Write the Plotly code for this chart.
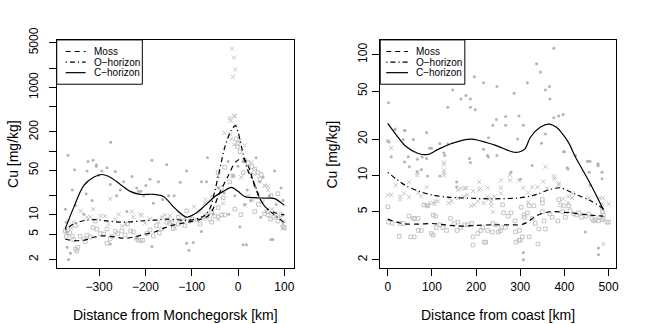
import plotly.graph_objects as go

# ---------------- data ----------------
# Transect towards Monchegorsk: (distance km, Cu mg/kg)
moss_mon = [(-373,5.6),(-371,4.6),(-368,5.9),(-363,5.2),(-358,4.6),(-355,4.1),(-351,6.8),(-351,2.9),(-348,2.7),
            (-346,3.1),(-341,4.6),(-333,4.2),(-330,3.8),(-326,4.8),(-319,4.5),(-313,6.3),(-308,8.0),(-305,6.0),
            (-297,5.1),(-290,5.0),(-283,6.0),(-283,3.6),(-276,4.2),(-272,4.6),(-265,5.5),(-260,5.1),(-251,5.6),
            (-244,4.8),(-239,7.2),(-232,5.6),(-226,5.4),(-219,4.3),(-215,4.0),(-210,4.0),(-206,4.0),(-197,5.1),
            (-190,5.8),(-183,4.7),(-176,6.8),(-170,5.2),(-165,6.0),(-154,7.7),(-148,7.4),(-143,7.7),(-140,6.1),
            (-129,9.2),(-129,7.2),(-118,8.0),(-115,6.8),(-111,11.6),(-104,8.0),(-99,8.6),(-88,8.3),(-82,7.2),
            (-70,9.5),(-61,8.6),(-57,7.7),(-50,9.6),(-43,9.3),(-43,13),(-36,26.5),(-32,18.5),(-29,56),(-43,46),
            (-18,33),(-11,41),(-4,155),(0,131),(-1.5,117),(4,98),(11,46),(14,72),(22,66),(30,57),(36,52),(43,46),
            (47,36),(50,43),(6,10.1),(-7,12.3),(-57,11.3),(-68,10),(-36,10),(-29,10),(36,11.3),(44,14.6),(52,16.9),
            (57,10.4),(63,11.3),(65,10),(70,8.6),(71,20),(77,9.2),(86,8),(86,21.5),(93,10.1),(97,6.5),(100,6.3)]
ohor_mon = [(-369,5.1),(-366,8.0),(-360,6.2),(-355,7.7),(-340,11.5),(-326,9.2),(-319,9.3),(-313,12.3),(-297,9.6),
            (-287,9.6),(-280,7.2),(-276,17.9),(-265,8.5),(-258,10.2),(-250,6.7),(-242,7.2),(-229,11.3),(-226,9.3),
            (-211,10.2),(-208,9.8),(-201,7.4),(-190,8.8),(-172,7.7),(-165,9.3),(-158,9.9),(-147,9.6),(-136,6.3),
            (-123,7.7),(-115,9.0),(-95,13.4),(-82,11.3),(-75,8.6),(-72,15.2),(-70,17.3),(-57,19.5),(-43,8.5),
            (-43,41),(-32,15.1),(-29,194),(-18,330),(-16,298),(-17,184),(-14,155),(-13,4060),(-11,1470),(-9,2940),
            (-9,356),(-9,126),(-7,350),(-6,1910),(-4,250),(4,148),(7,39),(14,123),(16,14.1),(22,20),(22,49),(29,66),
            (32,16.9),(36,43),(43,21.5),(57,29),(59,28.3),(61,11.3),(65,24.4),(65,28),(73,12.3),(82,9.6),(90,9.2),
            (97,7.2),(97,6.1),(100,8)]
chor_mon = [(-373,12.3),(-371,7.7),(-371,5.4),(-369,3.1),(-366,2.0),(-367,86),(-362,2.5),(-358,24.5),(-353,51),
            (-351,14.1),(-333,10.2),(-328,21.5),(-326,49),(-324,69),(-315,16.9),(-313,72),(-306,61),(-306,58),
            (-301,42),(-294,49),(-283,55),(-276,30),(-276,3.5),(-275,138),(-265,48),(-262,19.9),(-254,24.5),
            (-247,33),(-240,11.3),(-229,40),(-219,26.5),(-219,4.3),(-215,23.4),(-210,23.4),(-204,19.9),(-199,29),
            (-190,36.3),(-186,72),(-186,3.2),(-183,15.3),(-172,33),(-163,17.4),(-154,62),(-150,20),(-138,19.9),
            (-125,32.6),(-111,49),(-111,3.6),(-106,2.8),(-97,3.7),(-79,33),(-79,5.5),(-68,33),(-66,79),(-54,10.2),
            (-43,26.5),(-30,22),(-21.5,69),(-20,10.2),(-11,41),(-7,19.9),(0,58),(4,6.5),(11,69),(11,3.4),(14,14.6),
            (18,3.4),(20,24.5),(27,16.9),(29,44),(36,29),(39,79),(47,33),(49,9.2),(54,39),(68,19.9),(71,4.1),
            (75,4.1),(79,49),(82,14.6),(93,26.5),(97,17)]

# Smoothed trends along the Monchegorsk transect
moss_mon_fit = [(-373,4.15),(-355,3.95),(-333,4.0),(-310,4.5),(-290,4.7),(-265,4.5),(-245,4.3),(-225,4.5),
                (-205,4.9),(-180,5.4),(-160,6.2),(-140,6.9),(-120,7.4),(-100,7.9),(-80,8.6),(-65,9.6),(-55,12),
                (-40,22),(-22,40),(-5,68),(11,77),(22,58),(38,26),(58,13.5),(80,10.8),(100,10)]
ohor_mon_fit = [(-373,5.9),(-355,7.2),(-330,8.2),(-305,8.4),(-280,8.0),(-255,7.7),(-230,7.8),(-205,8.1),
                (-180,8.3),(-155,8.6),(-130,8.4),(-107,8.2),(-85,8.9),(-72,9.8),(-60,13),(-50,24),(-40,50),
                (-28,120),(-15,210),(-6,252),(0,200),(7,120),(21,50),(36,30),(47,18),(60,13),(75,10.5),(100,7.5)]
chor_mon_fit = [(-373,6.1),(-355,13),(-333,29),(-312,39),(-294,43),(-276,39),(-254,30),(-233,23.4),(-211,21),
                (-183,21),(-161,19.4),(-140,13.5),(-129,11.3),(-111,9.2),(-93,10.4),(-71,14.1),(-50,19.4),
                (-32,23.4),(-14,27),(0,23.4),(14,19.4),(36,18.6),(64,18.3),(79,18),(100,14.1)]

# Transect inland from the coast: (distance km, Cu mg/kg)
moss_coast = [(0,5.5),(1.6,4.1),(10,4.0),(26,3.13),(28,4.0),(35,4.0),(48,4.6),(52,3.1),(58,4.4),(60,3.1),(61,4.4),
              (69,3.5),(69,4.4),(76,3.5),(82,5.7),(90,5.6),(99,3.3),(103,4.7),(103,3.2),(108,4.6),(110,3.7),
              (118,3.9),(125,3.7),(133,3.5),(142,4.4),(151,4.0),(157,3.5),(159,4.1),(165,3.7),(174,3.9),(181,3.9),
              (190,4.0),(193,3.1),(193,2.65),(204,3.3),(211,3.5),(215,3.7),(219,2.8),(222,2.8),(226,3.5),(237,3.4),
              (238,4.0),(245,3.9),(250,3.4),(255,3.5),(258,3.7),(260,5.7),(262,4.9),(266,3.7),(273,4.6),(279,4.9),
              (288,4.2),(289,3.4),(290,2.8),(297,2.9),(298,3.5),(300,2.9),(302,5.46),(305,3.1),(309,4.7),(309,4.5),
              (316,4.9),(320,5.6),(320,3.1),(327,4.4),(331,5.6),(334,4.0),(340,2.7),(342,3.6),(350,5.9),(350,6.3),
              (350,5.0),(354,4.2),(357,3.6),(367,4.8),(372,4.5),(385,4.2),(387,6.3),(391,5.7),(396,5.0),(398,5.6),
              (402,4.5),(410,5.6),(413,5.1),(421,4.8),(428,4.7),(432,4.9),(439,4.5),(449,4.6),(455,4.8),(462,4.4),
              (466,4.2),(470,4.3),(477,4.2),(480,4.5),(485,4.3),(486,5.0),(488,4.4),(488,4.7),(496,4.1),(500,4.1)]
ohor_coast = [(1.6,19.3),(8,16.8),(8,6.9),(0,6.9),(18,8.3),(28,6.7),(28,6.3),(37,7.1),(48,8.8),(48,6.6),(67,10.5),
              (67,10),(69,7.2),(76,6.7),(85,5.7),(88,8),(91,5.6),(95,5.9),(103,5.9),(106,5.8),(108,6.1),(114,6.1),
              (127,12.8),(127,12.3),(127,10.5),(127,11),(127,10),(138,5.9),(140,6.5),(145,6.1),(159,6.5),(159,7.6),
              (166,7.8),(172,6.7),(174,7.8),(178,7.9),(180,6.9),(189,5.6),(193,7.4),(196,5.7),(204,6.1),(207,8.8),
              (207,7.6),(210,7.8),(217,5.9),(226,7.9),(226,6.7),(230,6.4),(234,5.6),(234,6.0),(238,5.0),(241,6.7),
              (256,9.1),(256,7.9),(256,7.1),(277,10.1),(277,9.1),(297,9.1),(307,7.9),(318,7.2),(318,6.0),(327,8),
              (339,8),(352,8.9),(357,11.8),(361,7.8),(377,9.8),(377,9.4),(387,8.6),(387,8.3),(397,6.4),(408,6.7),
              (408,5.9),(417,7.1),(417,6.5),(455,6.5),(480,6.5),(487,6.5),(485,5.8),(485,5.5),(485,5.2),(500,5.8),
              (488,2.7)]
chor_coast = [(0,19.3),(1.6,62),(1.6,40),(3,18.9),(8,14.3),(16.6,24.2),(16.6,24),(35,19.8),(38,12.9),(37.5,23.5),
              (39,23.5),(46.5,14.3),(48.8,11.8),(58,19.8),(67,13.6),(67,10.8),(76,11.2),(78,14.2),(88,22.7),
              (88,13.8),(90,9.9),(95,16.8),(99,16.8),(118,18.4),(118,9.9),(127,15.3),(129,14.6),(136,36.6),
              (136,18.2),(147,51),(156,8.8),(156,8.0),(166,43),(177,46),(185,13.8),(187,43),(187,36.6),(187,12.8),
              (196,65.5),(198,35),(217,58.5),(217,16.5),(226,14.6),(228,20.5),(228,14.2),(238,26),(246,29),
              (247,54.6),(247,14.6),(267,30.8),(267,26),(279,10.6),(286,48),(294,20),(297,31),(300,9.3),(307,2.0),
              (307,2.3),(307,26),(316,58.5),(327,12.1),(337,84),(346,72),(348,18.5),(357,51),(357,22),(366,54.6),
              (367,43),(376,113),(376,30),(387,31),(397,32),(398,15.7),(400,15.7),(406,11.6),(408,11.3),(425,14.6),
              (447,3.4),(452,13.1),(455,13.1),(456,10.6),(458,13.1),(458,8.3),(476,12.5),(476,12),(476,12.3),
              (477,2.5),(477,2.2),(485,9.4),(485,10.6)]

# Smoothed trends along the coast transect
moss_coast_fit = [(0,4.35),(20,4.1),(39,3.97),(70,3.95),(99,4.0),(130,3.9),(159,3.8),(200,3.85),(234,3.9),
                  (279,3.9),(301,3.9),(316,4.1),(331,4.5),(350,4.85),(369,5.0),(413,4.9),(458,4.7),(488,4.6)]
ohor_coast_fit = [(0,10.6),(20,9.3),(39,8.3),(70,7.4),(99,6.9),(135,6.6),(174,6.5),(234,6.4),(294,6.5),
                  (320,6.7),(339,7.0),(365,7.6),(391,7.9),(410,7.4),(428,6.9),(458,6.2),(488,5.3)]
chor_coast_fit = [(0,27),(20,21.5),(40,17.5),(69,15.2),(91,14.9),(115,16.5),(143,18.3),(188,20),(241,17.9),
                  (289,15.5),(310,16.5),(323,20.7),(345,25),(365,26.6),(382,25),(396,22),(410,18.5),(424,14.4),
                  (440,11.3),(458,8.6),(475,6.5),(488,5.2)]

series_names = ["Moss", "O\u2212horizon", "C\u2212horizon"]
mon_ticks = [-300, -200, -100, 0, 100]
mon_ticktext = ["\u2212300", "\u2212200", "\u2212100", "0", "100"]
coast_ticks = [0, 100, 200, 300, 400, 500]
mon_yticks = [2, 5, 10, 20, 50, 100, 200, 500, 1000, 2000, 5000]
mon_yticktext = ["2", "5", "10", "", "50", "", "200", "", "1000", "", "5000"]
coast_yticks = [2, 5, 10, 20, 50, 100]

# ---------------- figure ----------------
W, H = 648, 324
FONT = "Liberation Sans, Arial, Helvetica, sans-serif"
GRAY = "#bebebe"
DOTGRAY = "#b4b4b4"


def xs(pairs):
    return [p[0] for p in pairs]


def ys(pairs):
    return [p[1] for p in pairs]


def px(x):
    return x / W


def py(y):
    return 1 - y / H


fig = go.Figure()

line_styles = [
    dict(color="black", width=1.2, dash="5px,4px"),
    dict(color="black", width=1.2, dash="1.2px,3px,5px,3px"),
    dict(color="black", width=1.2),
]
marker_styles = [
    dict(symbol="square-open", size=3.6, color=GRAY, line=dict(width=0.9, color=GRAY)),
    dict(symbol="x-thin-open", size=4.2, color=GRAY, line=dict(width=0.9, color=GRAY)),
    dict(symbol="circle", size=3, color=DOTGRAY, line=dict(width=0)),
]

panels = [
    ("x", "y", [moss_mon, ohor_mon, chor_mon], [moss_mon_fit, ohor_mon_fit, chor_mon_fit]),
    ("x2", "y2", [moss_coast, ohor_coast, chor_coast], [moss_coast_fit, ohor_coast_fit, chor_coast_fit]),
]

for xa, ya, pts, fits in panels:
    for name, p, ms in zip(series_names, pts, marker_styles):
        fig.add_trace(go.Scatter(x=xs(p), y=ys(p), mode="markers", marker=ms,
                                 name=name, xaxis=xa, yaxis=ya, hoverinfo="skip"))
    for name, f, ls in zip(series_names, fits, line_styles):
        fig.add_trace(go.Scatter(x=xs(f), y=ys(f), mode="lines", line=dict(shape="spline", smoothing=0.9, **ls),
                                 name=name, xaxis=xa, yaxis=ya, hoverinfo="skip"))

axis_common = dict(showline=True, linecolor="black", linewidth=1, mirror=True, ticks="outside",
                   ticklen=7, tickwidth=1, tickcolor="black", showgrid=False, zeroline=False,
                   tickfont=dict(family=FONT, size=12, color="black"))

ytop, ybot = 29, 266
fig.update_layout(
    width=W, height=H, margin=dict(l=0, r=0, t=0, b=0),
    paper_bgcolor="white", plot_bgcolor="white", showlegend=False,
    xaxis=dict(domain=[px(57), px(295)], range=[-391.5, 120], tickvals=mon_ticks, ticktext=mon_ticktext,
               anchor="y", **axis_common),
    yaxis=dict(domain=[py(ybot), py(ytop)], type="log", range=[0.165, 3.744], tickvals=mon_yticks,
               ticktext=mon_yticktext, tickangle=-90, anchor="x", ticklabelstandoff=6, **axis_common),
    xaxis2=dict(domain=[px(382), px(619)], range=[-17, 517], tickvals=coast_ticks,
                ticktext=[str(t) for t in coast_ticks], anchor="y2", **axis_common),
    yaxis2=dict(domain=[py(ybot), py(ytop)], type="log", range=[0.232, 2.122], tickvals=coast_yticks,
                ticktext=[str(t) for t in coast_yticks], tickangle=-90, anchor="x2", ticklabelstandoff=0,
                **axis_common),
)

# axis titles
titles = [
    dict(x=px(176), y=py(315), text="Distance from Monchegorsk [km]", textangle=0),
    dict(x=px(500), y=py(315), text="Distance from coast [km]", textangle=0),
    dict(x=px(13), y=py(147.5), text="Cu [mg/kg]", textangle=-90),
    dict(x=px(334), y=py(147.5), text="Cu [mg/kg]", textangle=-90),
]
for t in titles:
    fig.add_annotation(xref="paper", yref="paper", showarrow=False, xanchor="center", yanchor="middle",
                       font=dict(family=FONT, size=14, color="black"), **t)

# legends (one boxed key per panel)
legend_specs = [
    dict(box=(57, 29, 143, 75), line_x=(66, 86), text_x=92, rows=(41, 52, 63)),
    dict(box=(382, 29, 467, 75), line_x=(388, 410), text_x=416, rows=(41, 52, 63)),
]
for spec in legend_specs:
    x0, y0, x1, y1 = spec["box"]
    fig.add_shape(type="rect", xref="paper", yref="paper", x0=px(x0), y0=py(y1), x1=px(x1), y1=py(y0),
                  line=dict(color="black", width=1), fillcolor="white", layer="above")
    for name, ls, ry in zip(series_names, line_styles, spec["rows"]):
        fig.add_shape(type="line", xref="paper", yref="paper", x0=px(spec["line_x"][0]), x1=px(spec["line_x"][1]),
                      y0=py(ry), y1=py(ry), line=ls, layer="above")
        fig.add_annotation(xref="paper", yref="paper", x=px(spec["text_x"]), y=py(ry), text=name,
                           showarrow=False, xanchor="left", yanchor="middle",
                           font=dict(family=FONT, size=10, color="black"))

fig.write_html("out.html")
